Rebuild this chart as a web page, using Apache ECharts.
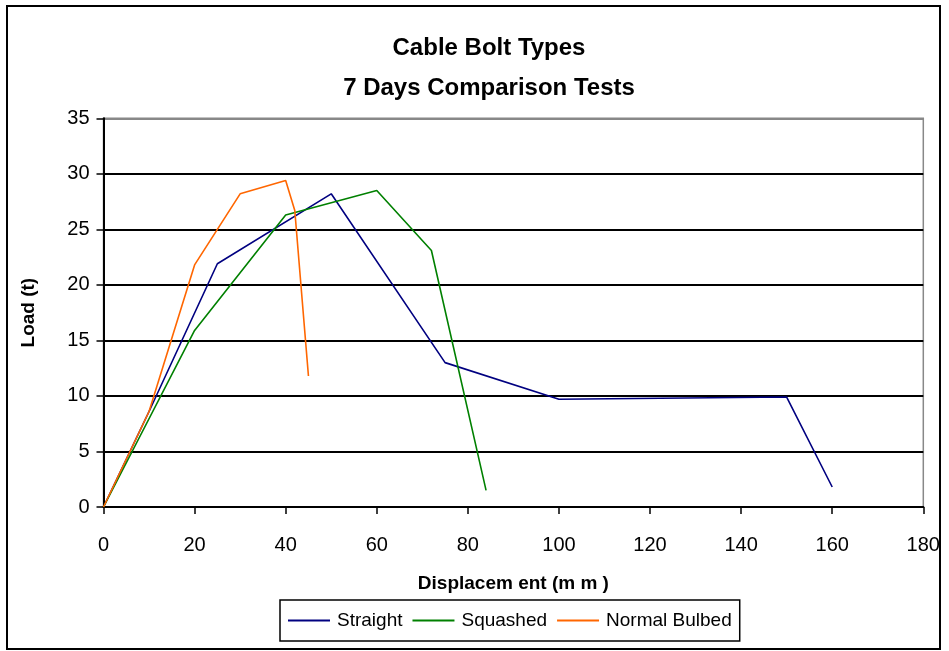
<!DOCTYPE html>
<html>
<head>
<meta charset="utf-8">
<style>
  html, body { margin: 0; padding: 0; background: #fff; }
  #chart { width: 949px; height: 651px; }
</style>
<script src="https://cdn.jsdelivr.net/npm/echarts@6/dist/echarts.min.js"></script>
</head>
<body>
<div id="chart"></div>
<script>
// Displacement (mm) and load (t) readings for each cable bolt type
const straightX = [0, 10, 25, 50, 75, 100, 150, 160];
const straightY = [0, 8.6, 21.9, 28.2, 13.0, 9.7, 9.9, 1.8];
const squashedX = [0, 20, 40, 60, 72, 84];
const squashedY = [0, 15.9, 26.3, 28.5, 23.1, 1.5];
const bulbedX = [0, 10, 20, 30, 40, 42, 45];
const bulbedY = [0, 8.6, 21.8, 28.2, 29.4, 26.7, 11.8];

const seriesNames = ['Straight', 'Squashed', 'Normal Bulbed'];
const seriesColors = ['#000080', '#008000', '#FF6600'];
const xTicks = [0, 20, 40, 60, 80, 100, 120, 140, 160, 180];
const yTicks = [0, 5, 10, 15, 20, 25, 30, 35];

const pairs = (xs, ys) => xs.map((x, i) => [x, ys[i]]);
const seriesData = [pairs(straightX, straightY), pairs(squashedX, squashedY), pairs(bulbedX, bulbedY)];

const font = 'Liberation Sans, Arial, sans-serif';

const chart = echarts.init(document.getElementById('chart'), null, { renderer: 'canvas' });

chart.setOption({
  backgroundColor: '#fff',
  animation: false,
  title: {
    text: 'Cable Bolt Types\n7 Days Comparison Tests',
    left: 484,
    textAlign: 'center',
    top: 23,
    textStyle: {
      fontFamily: font,
      fontSize: 24,
      fontWeight: 'bold',
      color: '#000',
      lineHeight: 40
    }
  },
  graphic: [{
    type: 'rect',
    shape: { x: 7, y: 6, width: 933, height: 643 },
    style: { fill: 'none', stroke: '#000', lineWidth: 2 },
    silent: true,
    z: -1
  }],
  legend: {
    data: seriesNames,
    left: 280,
    top: 600,
    orient: 'horizontal',
    icon: 'rect',
    itemWidth: 42,
    itemHeight: 2,
    itemGap: 10,
    padding: [11, 8, 11, 8],
    borderColor: '#000',
    borderWidth: 1.5,
    textStyle: { fontFamily: font, fontSize: 19, color: '#000', padding: [0, 0, 0, 2] }
  },
  grid: {
    left: 103.5,
    right: 25.7,
    top: 118.3,
    bottom: 144,
    show: true,
    borderColor: '#888',
    borderWidth: 1.5,
    backgroundColor: 'transparent'
  },
  xAxis: {
    type: 'value',
    min: xTicks[0],
    max: xTicks[xTicks.length - 1],
    interval: xTicks[1] - xTicks[0],
    name: 'Displacem ent (m m )',
    nameLocation: 'middle',
    nameGap: 67,
    nameTextStyle: { fontFamily: font, fontSize: 19, fontWeight: 'bold', color: '#000' },
    axisLine: { show: true, onZero: false, lineStyle: { color: '#000', width: 2 } },
    axisTick: { show: true, length: 7, inside: false, lineStyle: { color: '#000', width: 1.5 } },
    axisLabel: { fontFamily: font, fontSize: 20, color: '#000', margin: 28 },
    splitLine: { show: false }
  },
  yAxis: {
    type: 'value',
    min: yTicks[0],
    max: yTicks[yTicks.length - 1],
    interval: yTicks[1] - yTicks[0],
    name: 'Load (t)',
    nameLocation: 'middle',
    nameGap: 65,
    nameRotate: 90,
    nameTextStyle: { fontFamily: font, fontSize: 19, fontWeight: 'bold', color: '#000' },
    axisLine: { show: true, onZero: false, lineStyle: { color: '#000', width: 2 } },
    axisTick: { show: true, length: 7, lineStyle: { color: '#000', width: 1.5 } },
    axisLabel: { fontFamily: font, fontSize: 20, color: '#000', margin: 14 },
    splitLine: {
      show: true,
      lineStyle: {
        color: ['#000', '#000', '#000', '#000', '#000', '#000', '#000', '#888'],
        width: 2
      }
    }
  },
  series: seriesNames.map((name, i) => ({
    name: name,
    type: 'line',
    data: seriesData[i],
    showSymbol: false,
    symbol: 'none',
    clip: false,
    color: seriesColors[i],
    lineStyle: { color: seriesColors[i], width: 1.6 },
    z: 3
  }))
});
</script>
</body>
</html>
